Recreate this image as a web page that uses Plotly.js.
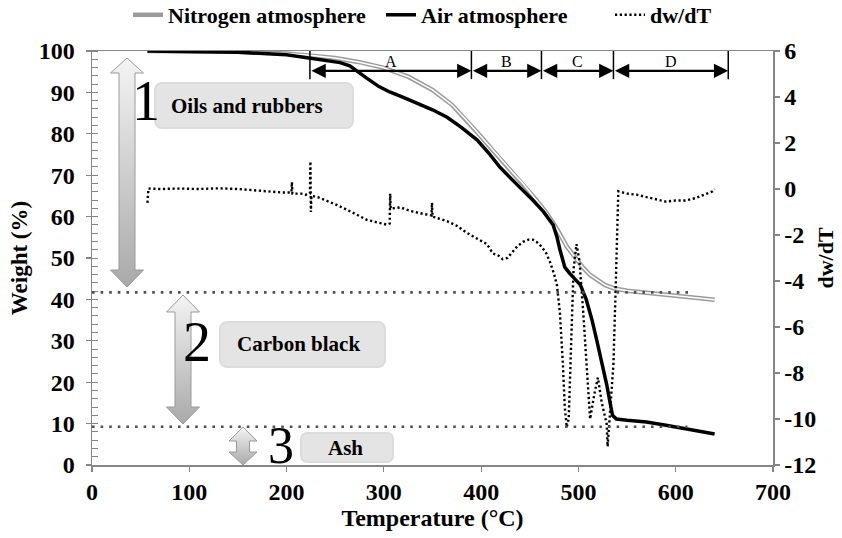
<!DOCTYPE html>
<html>
<head>
<meta charset="utf-8">
<script src="https://cdn.plot.ly/plotly-3.0.1.min.js"></script>
<style>html,body{margin:0;padding:0;background:#fff;}#chart{width:842px;height:538px;}</style>
</head>
<body>
<div id="chart"></div>
<script>
// ---- data ----
var tempNitrogen = [57, 150, 200, 224, 250, 275, 299, 325, 350, 370, 385, 400, 412, 425, 433, 443, 455, 467, 478, 488, 497, 505, 512, 519, 527, 536, 550, 570, 600, 620, 640];
var weightNitrogen = [100, 99.8, 99.4, 99, 98.3, 97.3, 96, 93.8, 90.6, 87, 83.3, 79.3, 76, 72.5, 70.5, 68, 64.5, 61, 57, 52.8, 50, 47.6, 45.9, 44.7, 43.5, 42.7, 42.1, 41.6, 40.9, 40.4, 39.9];

var tempAir = [57, 150, 200, 224, 240, 255, 265, 274, 282, 295, 306, 320, 334, 350, 365, 380, 396, 408, 419, 430, 440, 453, 464, 474, 478, 481, 486, 491, 498, 502, 508, 514, 519, 524, 529, 535, 539, 550, 570, 590, 604, 620, 640];
var weightAir = [100, 99.7, 99.1, 98.3, 97.8, 97.2, 96.4, 95.0, 93.5, 91.4, 90.1, 88.8, 87.4, 85.8, 84, 81.5, 78.5, 75.3, 72, 69.3, 67, 64, 61.2, 58, 55, 52, 47.8, 46.3, 44.7, 43.5, 40, 35, 30, 25, 19.5, 12, 11.1, 10.8, 10.4, 9.6, 9.0, 8.2, 7.5];

var tempDeriv = [57, 57.5, 58, 70, 90, 110, 130, 150, 165, 180, 195, 205, 205.5, 206, 215, 220, 224, 224.5, 225, 225.5, 232, 241, 252, 262, 272, 283, 293, 303, 306, 306.5, 307, 317, 327, 337, 349, 349.5, 350, 365, 375, 385, 395, 406, 412, 418, 422, 427, 432, 437, 443, 449, 453, 457, 462, 467, 471, 475, 478, 481, 484, 486, 488, 490, 493, 495, 498, 501, 505, 509, 512, 516, 520, 524, 529, 530, 533, 536, 538, 540, 541, 550, 560, 570, 580, 590, 600, 610, 620, 630, 638, 640];
var valueDeriv = [-0.6, 0.0, 0.02, 0.0, 0.02, 0.0, 0.03, 0.0, -0.05, -0.1, -0.15, -0.15, 0.3, -0.2, -0.2, -0.25, -0.2, 1.2, -1.0, -0.3, -0.35, -0.5, -0.7, -0.9, -1.1, -1.35, -1.45, -1.55, -1.5, -0.2, -0.85, -0.8, -0.95, -1.05, -1.15, -0.6, -1.2, -1.4, -1.6, -1.9, -2.15, -2.4, -2.8, -2.9, -3.05, -3.0, -2.75, -2.5, -2.3, -2.2, -2.2, -2.3, -2.5, -2.8, -3.2, -3.7, -4.2, -5.4, -7.6, -9.5, -10.35, -10.0, -6.1, -3.5, -2.4, -3.1, -5.4, -8.3, -10.0, -9.0, -8.2, -9.3, -10.2, -11.2, -9.5, -7.6, -4.7, -1.5, -0.1, -0.2, -0.25, -0.35, -0.45, -0.55, -0.5, -0.5, -0.4, -0.25, -0.1, 0.0];

var seriesNames = ['Nitrogen atmosphere', 'Air atmosphere', 'dw/dT'];
var sectionBounds = [224, 390, 462, 536, 654];
var sectionLabels = ['A', 'B', 'C', 'D'];
var levelValues = [41.7, 9.25];
var levelEnds = [617, 612];
var fractionLabels = ['Oils and rubbers', 'Carbon black', 'Ash'];
var fractionNumbers = ['1', '2', '3'];
var xTickVals = [0, 100, 200, 300, 400, 500, 600, 700];
var yTickVals = [0, 10, 20, 30, 40, 50, 60, 70, 80, 90, 100];
var y2TickVals = [-12, -10, -8, -6, -4, -2, 0, 2, 4, 6];
var y2TickText = ['-12', '-10', '-8', '-6', '-4', '-2', '0', '2', '4', '6'];

// ---- styling ----
var FONT = 'Liberation Serif, Times New Roman, serif';
var AXC = '#868686';

var traces = [
  {x: tempNitrogen, y: weightNitrogen, name: seriesNames[0], mode: 'lines', legend: 'legend',
   line: {color: '#9b9b9b', width: 4.5}, yaxis: 'y'},
  {x: tempNitrogen, y: weightNitrogen, name: seriesNames[0], mode: 'lines', showlegend: false,
   hoverinfo: 'skip', line: {color: '#ffffff', width: 1.5}, yaxis: 'y'},
  {x: tempAir, y: weightAir, name: seriesNames[1], mode: 'lines', legend: 'legend2',
   line: {color: '#000000', width: 3.5}, yaxis: 'y'},
  {x: tempDeriv, y: valueDeriv, name: seriesNames[2], mode: 'lines', legend: 'legend3',
   line: {color: '#000000', width: 2.4, dash: '2.2px,2.6px'}, yaxis: 'y2'}
];

// decorative gradient arrows and rounded label boxes (plot-area pixel space 681x414)
function dblArrow(cx, yTop, yTopBase, yBotBase, yBot, hw, sw) {
  return 'M' + cx + ',' + yTop + ' L' + (cx + hw) + ',' + yTopBase + ' L' + (cx + sw) + ',' + yTopBase +
    ' L' + (cx + sw) + ',' + yBotBase + ' L' + (cx + hw) + ',' + yBotBase + ' L' + cx + ',' + yBot +
    ' L' + (cx - hw) + ',' + yBotBase + ' L' + (cx - sw) + ',' + yBotBase + ' L' + (cx - sw) + ',' + yTopBase +
    ' L' + (cx - hw) + ',' + yTopBase + ' Z';
}
var svg = '<svg xmlns="http://www.w3.org/2000/svg" width="681" height="414" viewBox="0 0 681 414" preserveAspectRatio="none">' +
  '<defs>' +
  '<linearGradient id="g1" x1="0" y1="0" x2="0" y2="1"><stop offset="0" stop-color="#f4f4f4"/><stop offset="1" stop-color="#a9a9a9"/></linearGradient>' +
  '</defs>' +
  '<rect x="63" y="32" width="198" height="45" rx="7" fill="#e4e4e4" stroke="#dcdcdc" stroke-width="2"/>' +
  '<rect x="128" y="271" width="165" height="45" rx="7" fill="#e4e4e4" stroke="#dcdcdc" stroke-width="2"/>' +
  '<rect x="209" y="382" width="92" height="29" rx="6" fill="#e4e4e4" stroke="#dcdcdc" stroke-width="2"/>' +
  '<path d="' + dblArrow(35, 7, 22, 219, 236, 16.5, 8) + '" fill="url(#g1)" stroke="#9a9a9a" stroke-width="1"/>' +
  '<path d="' + dblArrow(91, 244, 261, 356, 373, 16.5, 8) + '" fill="url(#g1)" stroke="#9a9a9a" stroke-width="1"/>' +
  '<path d="' + dblArrow(151, 376, 390, 401, 414, 14, 6.5) + '" fill="url(#g1)" stroke="#9a9a9a" stroke-width="1"/>' +
  '</svg>';

var shapes = [];
sectionBounds.forEach(function (t) {
  shapes.push({type: 'line', xref: 'x', yref: 'y', x0: t, x1: t, y0: 100, y1: 93.2,
    line: {color: '#000', width: 1.5}});
});
levelValues.forEach(function (v, i) {
  shapes.push({type: 'line', xref: 'x', yref: 'y', x0: 0, x1: levelEnds[i], y0: v, y1: v,
    line: {color: '#505050', width: 2.6, dash: '2.6px,6px'}});
});

var annotations = [];
for (var i = 0; i < sectionLabels.length; i++) {
  var a = sectionBounds[i], b = sectionBounds[i + 1];
  annotations.push({xref: 'x', yref: 'y', axref: 'x', ayref: 'y', x: b, y: 95.2, ax: a, ay: 95.2,
    text: '', showarrow: true, arrowside: 'end+start', arrowhead: 2, startarrowhead: 2,
    arrowsize: 1.3, startarrowsize: 1.3, arrowwidth: 2.2, arrowcolor: '#000', standoff: 0, startstandoff: 0});
  annotations.push({xref: 'x', yref: 'y', x: (a + b) / 2, y: 97.4, text: sectionLabels[i], showarrow: false,
    font: {family: FONT, size: 16, color: '#000'}});
}
var labelPos = [[159, 86.7], [212, 29.2], [261, 4.1]];
var numberPos = [[55.5, 87.9], [108, 29.7], [194, 4.8]];
var numberSize = [56, 56, 52];
for (var k = 0; k < 3; k++) {
  annotations.push({xref: 'x', yref: 'y', x: labelPos[k][0], y: labelPos[k][1], text: fractionLabels[k],
    showarrow: false, font: {family: FONT, size: 21, color: '#000', weight: 'bold'}});
  annotations.push({xref: 'x', yref: 'y', x: numberPos[k][0], y: numberPos[k][1], text: fractionNumbers[k],
    showarrow: false, font: {family: FONT, size: numberSize[k], color: '#000'}});
}

var tickFont = {family: FONT, size: 24, color: '#000', weight: 'bold'};
var legFont = {family: FONT, size: 22, color: '#000', weight: 'bold'};
function legendAt(px) {
  return {orientation: 'h', x: (px - 92) / 681, xanchor: 'left', y: 1.087, yanchor: 'middle',
    font: legFont, itemwidth: 30, bgcolor: 'rgba(0,0,0,0)', borderwidth: 0};
}
var layout = {
  width: 842, height: 538,
  margin: {l: 92, r: 69, t: 51, b: 73, autoexpand: false},
  paper_bgcolor: '#fff', plot_bgcolor: 'rgba(0,0,0,0)',
  font: {family: FONT, color: '#000'},
  showlegend: true,
  legend: legendAt(128),
  legend2: legendAt(381),
  legend3: legendAt(610),
  xaxis: {range: [0, 700], tickmode: 'array', tickvals: xTickVals, ticks: 'outside', ticklen: 5,
    tickcolor: AXC, tickwidth: 1.2, showline: true, linecolor: AXC, linewidth: 1.5, mirror: true,
    showgrid: false, zeroline: false, tickfont: tickFont,
    title: {text: 'Temperature (°C)', font: {family: FONT, size: 24, weight: 'bold', color: '#000'}, standoff: 3}},
  yaxis: {range: [0, 100], tickmode: 'array', tickvals: yTickVals, ticks: 'outside', ticklen: 5,
    tickcolor: AXC, tickwidth: 1.2, showline: true, linecolor: AXC, linewidth: 1.5,
    showgrid: false, zeroline: false, tickfont: tickFont, ticklabelstandoff: 6,
    minor: {dtick: 2, ticks: 'inside', ticklen: 6, tickcolor: AXC, tickwidth: 1, showgrid: false},
    title: {text: 'Weight (%)', font: {family: FONT, size: 23, weight: 'bold', color: '#000'}, standoff: 4}},
  yaxis2: {range: [-12, 6], overlaying: 'y', side: 'right', tickmode: 'array', tickvals: y2TickVals,
    ticktext: y2TickText, ticks: 'outside', ticklen: 5, tickcolor: AXC, tickwidth: 1.2,
    showline: true, linecolor: AXC, linewidth: 1.5, showgrid: false, zeroline: false, tickfont: tickFont,
    title: {text: 'dw/dT', font: {family: FONT, size: 22, weight: 'bold', color: '#000'}, standoff: 2}},
  shapes: shapes,
  annotations: annotations,
  images: [{source: 'data:image/svg+xml;charset=utf-8,' + encodeURIComponent(svg),
    xref: 'paper', yref: 'paper', x: 0, y: 1, sizex: 1, sizey: 1, sizing: 'stretch',
    xanchor: 'left', yanchor: 'top', layer: 'below'}]
};

Plotly.newPlot('chart', traces, layout, {displayModeBar: false, staticPlot: true});
</script>
</body>
</html>
